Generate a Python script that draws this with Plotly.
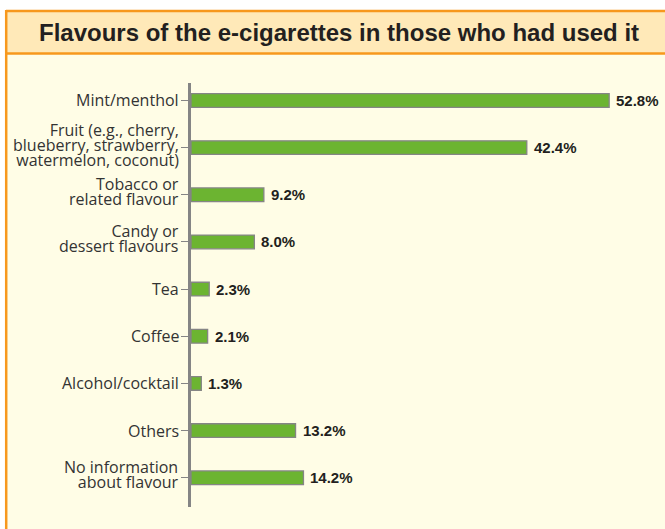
import plotly.graph_objects as go

# Survey result: flavours reported by e-cigarette users (%)
categories = [
    "Mint/menthol",
    "Fruit (e.g., cherry,<br>blueberry, strawberry,<br>watermelon, coconut)",
    "Tobacco or<br>related flavour",
    "Candy or<br>dessert flavours",
    "Tea",
    "Coffee",
    "Alcohol/cocktail",
    "Others",
    "No information<br>about flavour",
]
values = [52.8, 42.4, 9.2, 8.0, 2.3, 2.1, 1.3, 13.2, 14.2]
title_text = "Flavours of the e-cigarettes in those who had used it"

W, H = 665, 529
ML, MR, MT, MB = 191, 0, 83, 22
PW, PH = W - ML - MR, H - MT - MB

ORANGE = "#F7981D"
CREAM = "#FFFDE6"
BAND = "#FFE9B8"
GREEN = "#6CB431"
GREY = "#858585"


def px(x):
    return (x - ML) / PW


def py(y):
    return (H - MB - y) / PH


fig = go.Figure(
    go.Bar(
        x=values,
        y=categories,
        orientation="h",
        width=0.29,
        marker=dict(color=GREEN, line=dict(color=GREY, width=1.3)),
        hoverinfo="skip",
    )
)

shapes = [
    # cream panel
    dict(type="rect", xref="paper", yref="paper", x0=px(6), x1=px(700),
         y0=py(560), y1=py(11), fillcolor=CREAM, line=dict(width=0), layer="below"),
    # title band
    dict(type="rect", xref="paper", yref="paper", x0=px(6), x1=px(700),
         y0=py(53.5), y1=py(11), fillcolor=BAND, line=dict(width=0), layer="below"),
    # orange frame lines
    dict(type="line", xref="paper", yref="paper", x0=px(6), x1=px(700),
         y0=py(11), y1=py(11), line=dict(color=ORANGE, width=2.5), layer="below"),
    dict(type="line", xref="paper", yref="paper", x0=px(6), x1=px(700),
         y0=py(53.5), y1=py(53.5), line=dict(color=ORANGE, width=2.5), layer="below"),
    dict(type="line", xref="paper", yref="paper", x0=px(6.2), x1=px(6.2),
         y0=py(10), y1=py(560), line=dict(color=ORANGE, width=2.5), layer="below"),
]

annotations = [
    dict(text=title_text, xref="paper", yref="paper", x=px(339), y=py(32.5),
         xanchor="center", yanchor="middle", showarrow=False,
         font=dict(family="Liberation Sans, Arial", size=24, color="#231F20", weight="bold")),
]

# category labels: small base size keeps the leading tight, spans set the glyph size
for cat in categories:
    lines = cat.split("<br>")
    text = "<br>".join(f"<span style='font-size:16px'>{ln}</span>" for ln in lines)
    annotations.append(dict(
        text=text, xref="paper", yref="y", x=0, y=cat,
        xanchor="right", yanchor="middle", align="right", showarrow=False,
        xshift=-10, yshift=3 if len(lines) > 1 else 0,
        font=dict(family="Open Sans", size=11.5, color="#333333"),
    ))

# value labels at the end of each bar
for cat, v in zip(categories, values):
    annotations.append(dict(
        text=f"{v:.1f}%", xref="x", yref="y", x=v, y=cat,
        xanchor="left", yanchor="middle", showarrow=False, xshift=5,
        font=dict(family="Liberation Sans, Arial", size=15, color="#231F20", weight="bold"),
    ))

fig.update_layout(
    width=W, height=H,
    margin=dict(l=ML, r=MR, t=MT, b=MB),
    paper_bgcolor="white",
    plot_bgcolor="rgba(0,0,0,0)",
    showlegend=False,
    shapes=shapes,
    annotations=annotations,
    xaxis=dict(range=[0, 59.85], visible=False, fixedrange=True),
    yaxis=dict(
        type="category",
        categoryorder="array", categoryarray=categories,
        range=[8.62, -0.37],
        showticklabels=False,
        showline=True, linecolor=GREY, linewidth=2.5,
        ticks="outside", ticklen=7, tickwidth=1.3, tickcolor=GREY,
        showgrid=False, zeroline=False, fixedrange=True,
    ),
)

fig.write_html("out.html")
